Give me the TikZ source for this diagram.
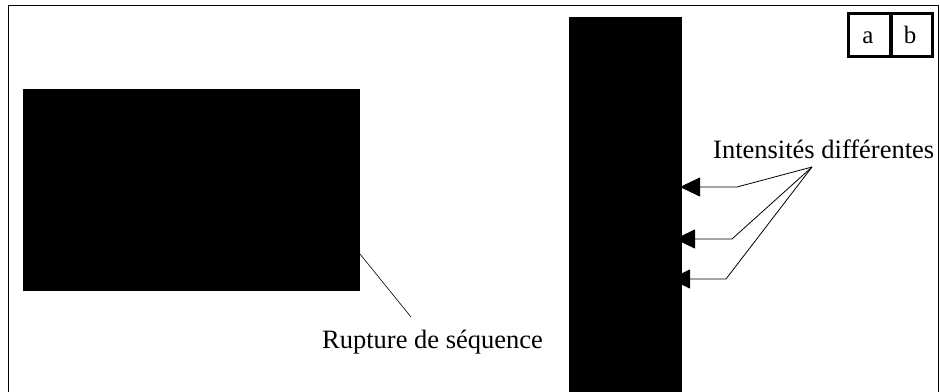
\documentclass[tikz,border=0pt]{standalone}
\usepackage{fontspec}
\setmainfont{Liberation Serif}
\usetikzlibrary{arrows.meta}
\begin{document}
\begin{tikzpicture}[x=1pt,y=-1pt,
  blackbox/.style={fill=black,draw=none,inner sep=0pt,outer sep=0pt,anchor=north west},
  lbl/.style={font=\fontsize{26.5}{30}\selectfont,inner sep=0pt,anchor=base west},
  cell/.style={draw=black,line width=2.5pt,inner sep=0pt,minimum width=42pt,minimum height=43pt},
  cellText/.style={font=\fontsize{25}{28}\selectfont,inner sep=0pt,anchor=base},
  pointer/.style={line width=0.8pt,-{Triangle[length=20pt,width=19pt]}},
  leader/.style={line width=0.6pt}]
\useasboundingbox (0,0) rectangle (940,391);
\fill[white] (0,0) rectangle (940,391);
\begin{scope}
\clip (0,0) rectangle (940,391);
% outer frame
\draw[line width=1pt] (8,400) -- (8,5) -- (938,5) -- (938,400);
% images
\node[blackbox,minimum width=337pt,minimum height=202pt] (imgA) at (23,89) {};
\node[blackbox,minimum width=113pt,minimum height=390pt] (imgB) at (569,17) {};
% a | b
\node[cell,anchor=north west] (ca) at (847,12) {};
\node[cell,anchor=north west] (cb) at (889,12) {};
\node[cellText] (ta) at (868,43) {a};
\node[cellText] (tb) at (910,43) {b};
\draw[line width=2.5pt] (ca.north east) -- ++(0,45);
% labels
\node[lbl] (rupt) at (322,348) {Rupture de séquence};
\node[lbl] (inten) at (713,158) {Intensités différentes};
\coordinate (conv) at (812,167);
\coordinate (ruptend) at (411,317);
\coordinate (k1) at (737,187);
\coordinate (k2) at (732,239);
\coordinate (k3) at (726,279);
\coordinate (t1) at (680,187);
\coordinate (t2) at (675,239);
\coordinate (t3) at (670,279);
% connectors
\draw[leader] (imgA.east |- 0,254) -- (ruptend);
\draw[pointer] (conv) -- (k1) -- (t1);
\draw[pointer] (conv) -- (k2) -- (t2);
\draw[pointer] (conv) -- (k3) -- (t3);
\end{scope}
\end{tikzpicture}
\end{document}
